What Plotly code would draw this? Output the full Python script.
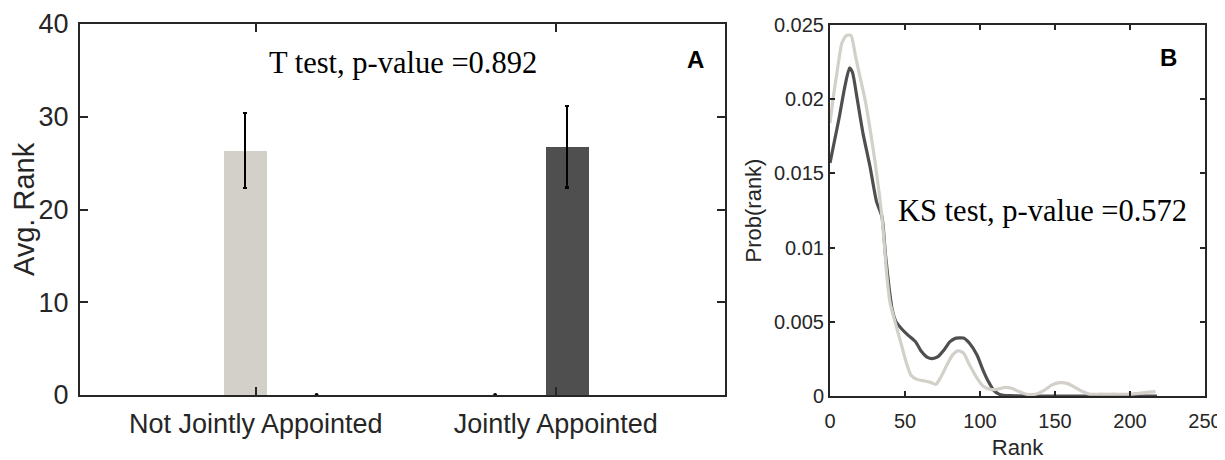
import plotly.graph_objects as go

# ---------------- data ----------------
categories = ["Not Jointly Appointed", "Jointly Appointed"]
avg_rank = [26.3, 26.7]
err_plus = [4.1, 4.45]
err_minus = [4.0, 4.35]
zero_bar_values = [0, 0]

yticks_a = [0, 10, 20, 30, 40]

# Panel B: rank distributions
rank_joint = [0, 3, 6, 10, 13, 15, 18, 22, 26.7, 31, 34.6, 37, 39.5, 41.5, 44, 48, 52, 57, 61,
              65, 68, 72, 76, 80, 84, 89, 93, 98, 102, 105.6, 109, 113, 120, 140, 160, 180, 200, 218]
prob_joint = [0.0157, 0.0172, 0.0187, 0.0209, 0.0221, 0.0218, 0.0201, 0.0177, 0.01545, 0.0131,
              0.0121, 0.0095, 0.0072, 0.0058, 0.0050, 0.0045, 0.0041, 0.00366, 0.0030,
              0.0026, 0.00252, 0.00265, 0.0031, 0.00366, 0.0039, 0.0039, 0.00355, 0.00276, 0.00175,
              0.00097, 0.0004, 0.00011, 0.00002, 0, 0, 0, 0, 0]

rank_notjoint = [0, 2, 4.5, 8, 11, 14, 17, 20, 23.5, 27, 30, 33, 34.6, 36, 38, 40, 42, 45, 48, 51,
                 54, 58, 63, 67, 70.5, 73.5, 78, 82, 85.5, 89, 93, 98, 102, 107, 111, 117, 121,
                 126, 131, 137, 143, 148, 153, 158, 163, 168, 173, 180, 190, 200, 206, 212, 217]
prob_notjoint = [0.0184, 0.0200, 0.0217, 0.0238, 0.0243, 0.0243, 0.0229, 0.0215, 0.0199, 0.0178,
                 0.0158, 0.0135, 0.0121, 0.0105, 0.0080, 0.0063, 0.0055, 0.0044, 0.0033, 0.0022,
                 0.0014, 0.00112, 0.00101, 0.00092, 0.00078, 0.0012, 0.0021, 0.0028, 0.00305,
                 0.0029, 0.0021, 0.0012, 0.00068, 0.00045, 0.00045, 0.00058, 0.00052,
                 0.0003, 0.00012, 0.00012, 0.0004, 0.00075, 0.0009, 0.00085, 0.0006, 0.00032,
                 0.00013, 0.00012, 0.00012, 0.00012, 0.00018, 0.00026, 0.0003]

xticks_b = [0, 50, 100, 150, 200, 250]
yticks_b = [0, 0.005, 0.01, 0.015, 0.02, 0.025]
yticklabels_b = ["0", "0.005", "0.01", "0.015", "0.02", "0.025"]

t_test_text = "T test, p-value =0.892"
ks_test_text = "KS test, p-value =0.572"

# ---------------- style ----------------
LIGHT = "#d3d0ca"
DARK = "#4f4f4f"
AXC = "#262626"
SANS = "Liberation Sans, Arial, Helvetica, sans-serif"
SERIF = "Liberation Serif, Times New Roman, serif"

# page has an 8px body margin; size the figure to fill the rest of the window
OFF = 8
W, H = 1225 - OFF, 460 - OFF


def px(x):
    return (x - OFF) / W


def py(y):
    return 1 - (y - OFF) / H


group_pos = [1, 2]
bar_offset = [-0.035, 0.038]
zero_offset = [0.203, -0.202]
bar_x = [g + o for g, o in zip(group_pos, bar_offset)]
zero_x = [g + o for g, o in zip(group_pos, zero_offset)]

fig = go.Figure()

fig.add_trace(go.Bar(
    x=bar_x, y=avg_rank, width=0.143,
    marker=dict(color=[LIGHT, DARK], line=dict(width=0)),
    error_y=dict(type="data", symmetric=False, array=err_plus, arrayminus=err_minus,
                 color="black", thickness=2.5, width=2),
    xaxis="x", yaxis="y", showlegend=False,
))
fig.add_trace(go.Scatter(
    x=zero_x, y=zero_bar_values, mode="markers",
    marker=dict(color="black", size=4), cliponaxis=False,
    xaxis="x", yaxis="y", showlegend=False,
))

fig.add_trace(go.Scatter(
    x=rank_joint, y=prob_joint, mode="lines", line=dict(color=DARK, width=3.2, shape="spline", smoothing=0.6),
    xaxis="x2", yaxis="y2", showlegend=False, name=categories[1],
))
fig.add_trace(go.Scatter(
    x=rank_notjoint, y=prob_notjoint, mode="lines", line=dict(color=LIGHT, width=3.2, shape="spline", smoothing=0.6),
    xaxis="x2", yaxis="y2", showlegend=False, name=categories[0],
))

axis_common = dict(showline=True, linecolor=AXC, linewidth=2, mirror="ticks", ticks="inside",
                   tickcolor=AXC, tickwidth=1.5, showgrid=False, zeroline=False, automargin=False)

fig.update_layout(
    width=W, height=H,
    margin=dict(l=0, r=0, t=0, b=0),
    paper_bgcolor="white", plot_bgcolor="white",
    bargap=0,
    xaxis=dict(domain=[px(80), px(725)], range=[0.4143, 2.5643],
               tickvals=group_pos, ticktext=categories, ticklen=8,
               tickfont=dict(family=SANS, size=27, color=AXC), ticklabelstandoff=4,
               anchor="y", **axis_common),
    yaxis=dict(domain=[py(395), py(24)], range=[0, 40], tickvals=yticks_a, ticklen=8,
               tickfont=dict(family=SANS, size=27, color=AXC), ticklabelstandoff=4,
               title=dict(text="Avg. Rank", font=dict(family=SANS, size=29, color=AXC), standoff=6),
               anchor="x", **axis_common),
    xaxis2=dict(domain=[px(830), px(1205)], range=[0, 250], tickvals=xticks_b, ticklen=5,
                tickfont=dict(family=SANS, size=20, color=AXC), ticklabelstandoff=6,
                title=dict(text="Rank", font=dict(family=SANS, size=22, color=AXC), standoff=11),
                anchor="y2", **axis_common),
    yaxis2=dict(domain=[py(396), py(25)], range=[0, 0.025], tickvals=yticks_b,
                ticktext=yticklabels_b, ticklen=5,
                tickfont=dict(family=SANS, size=20, color=AXC),
                title=dict(text="Prob(rank)", font=dict(family=SANS, size=22, color=AXC), standoff=6),
                anchor="x2", **axis_common),
    annotations=[
        dict(text=t_test_text, x=px(402.5), y=py(63), xref="paper", yref="paper",
             xanchor="center", yanchor="middle", showarrow=False,
             font=dict(family=SERIF, size=30.5, color="black")),
        dict(text=ks_test_text, x=px(1042.5), y=py(211), xref="paper", yref="paper",
             xanchor="center", yanchor="middle", showarrow=False,
             font=dict(family=SERIF, size=30.5, color="black")),
        dict(text="<b>A</b>", x=px(695), y=py(60), xref="paper", yref="paper",
             xanchor="center", yanchor="middle", showarrow=False,
             font=dict(family=SANS, size=24, color="black")),
        dict(text="<b>B</b>", x=px(1168), y=py(57), xref="paper", yref="paper",
             xanchor="center", yanchor="middle", showarrow=False,
             font=dict(family=SANS, size=24, color="black")),
    ],
)

fig.write_html("out.html")
